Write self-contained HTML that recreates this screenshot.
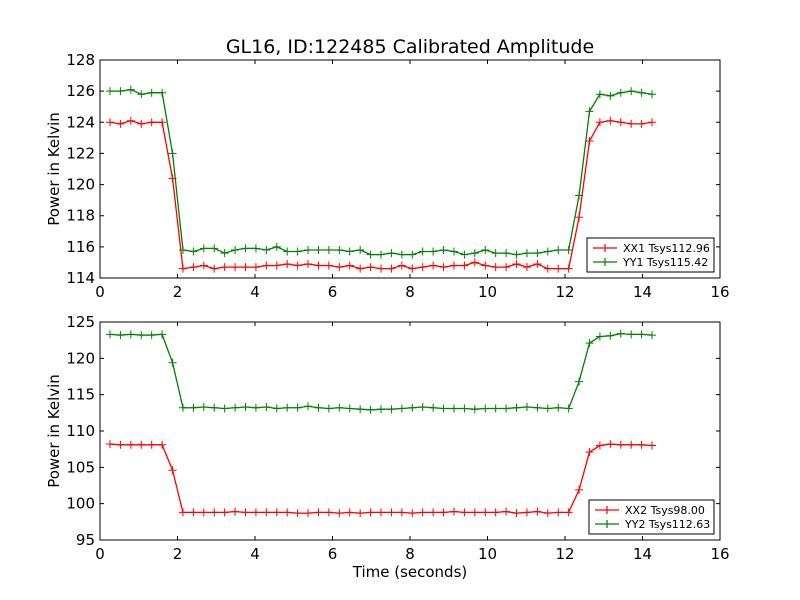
<!DOCTYPE html>
<html><head><meta charset="utf-8"><style>
html,body{margin:0;padding:0;background:#fff}
svg{display:block;font-family:"DejaVu Sans","Liberation Sans",sans-serif}
</style></head><body>
<svg id="c" width="800" height="600" xmlns="http://www.w3.org/2000/svg">
<rect width="800" height="600" fill="#fff"/>
<text x="410" y="53" font-size="19" text-anchor="middle">GL16, ID:122485 Calibrated Amplitude</text>
</svg>
<script>
const t0 = 0.258, dt = 0.269, nPts = 53;
const xx1 = [124.0,123.9,124.1,123.9,124.0,124.0,120.4,
114.6,114.7,114.8,114.6,114.7,114.7,114.7,114.7,114.8,114.8,114.9,114.8,114.9,114.8,114.8,114.7,114.8,114.6,114.7,114.6,114.6,114.8,114.6,114.7,114.8,114.7,114.8,114.8,115.0,114.8,114.7,114.7,114.9,114.7,114.9,114.6,114.6,114.6,
117.9,122.8,124.0,124.1,124.0,123.9,123.9,124.0];
const yy1 = [126.0,126.0,126.1,125.8,125.9,125.9,122.0,
115.8,115.7,115.9,115.9,115.6,115.8,115.9,115.9,115.8,116.0,115.7,115.7,115.8,115.8,115.8,115.8,115.7,115.8,115.5,115.5,115.6,115.5,115.5,115.7,115.7,115.8,115.7,115.5,115.6,115.8,115.6,115.6,115.5,115.6,115.6,115.7,115.8,115.8,
119.3,124.7,125.8,125.7,125.9,126.0,125.9,125.8];
const xx2 = [108.2,108.1,108.1,108.1,108.1,108.1,104.6,
98.8,98.8,98.8,98.8,98.8,98.9,98.8,98.8,98.8,98.8,98.8,98.7,98.7,98.8,98.8,98.7,98.8,98.7,98.8,98.8,98.8,98.8,98.7,98.8,98.8,98.8,98.9,98.8,98.8,98.8,98.8,98.9,98.7,98.8,98.9,98.7,98.8,98.8,
101.9,107.1,108.0,108.2,108.1,108.1,108.1,108.0];
const yy2 = [123.3,123.2,123.3,123.2,123.2,123.3,119.4,
113.2,113.2,113.3,113.2,113.1,113.2,113.3,113.2,113.3,113.1,113.2,113.2,113.4,113.2,113.1,113.2,113.1,113.0,112.9,113.0,113.0,113.1,113.2,113.3,113.2,113.1,113.1,113.1,113.0,113.1,113.1,113.1,113.2,113.3,113.2,113.1,113.2,113.1,
116.8,122.1,123.0,123.1,123.4,123.3,123.3,123.2];
const xTicks = [0,2,4,6,8,10,12,14,16];
const yTicksTop = [114,116,118,120,122,124,126,128];
const yTicksBot = [95,100,105,110,115,120,125];

const svg = document.getElementById('c');
const NS = 'http://www.w3.org/2000/svg';
function mk(tag, attrs, parent){const e=document.createElementNS(NS,tag);for(const k in attrs)e.setAttribute(k,attrs[k]);(parent||svg).appendChild(e);return e;}

function panel(top, bottom, ymin, ymax, yTicks, s1, s2, n1, n2, name, xlabel){
  const L=100,R=720;
  const g = mk('g',{});
  
  
  const X=v=>L+(v-0)/(16-0)*(R-L);
  const Y=v=>bottom-(v-ymin)/(ymax-ymin)*(bottom-top);
  // series
  [[s1,'#ff0000',n1],[s2,'#008000',n2]].forEach(([s,col,nm])=>{
    let d='';
    s.forEach((v,i)=>{d+=(i?'L':'M')+X(t0+i*dt).toFixed(2)+' '+Y(v).toFixed(2);});
    const p=mk('path',{d:d,fill:'none',stroke:col,'stroke-width':1.3},g);
    
    
    s.forEach((v,i)=>{const x=X(t0+i*dt),y=Y(v);
      const m=mk('path',{d:`M${x-4} ${y}H${x+4}M${x} ${y-4}V${y+4}`,stroke:col,'stroke-width':1},g);
      
      
    });
  });
  // frame
  mk('rect',{x:L,y:top,width:R-L,height:bottom-top,fill:'none',stroke:'#000','stroke-width':1},g);
  xTicks.forEach(v=>{const x=X(v);
    mk('path',{d:`M${x} ${bottom}v-4M${x} ${top}v4`,stroke:'#000'},g);
    const t=mk('text',{x:x,y:bottom+19,'font-size':15,'text-anchor':'middle'},g);t.textContent=v;
    
  });
  yTicks.forEach(v=>{const y=Y(v);
    mk('path',{d:`M${L} ${y}h4M${R} ${y}h-4`,stroke:'#000'},g);
    const t=mk('text',{x:L-5,y:y+5,'font-size':15,'text-anchor':'end'},g);t.textContent=v;
    
  });
  const yl=mk('text',{x:0,y:0,'font-size':15,'text-anchor':'middle',transform:`translate(59 ${(top+bottom)/2}) rotate(-90)`},g);
  yl.textContent='Power in Kelvin';
  
  if(xlabel){const xl=mk('text',{x:410,y:bottom+37,'font-size':15,'text-anchor':'middle'},g);xl.textContent=xlabel;
    }
}
panel(60,278,114,128,yTicksTop,xx1,yy1,'xx1','yy1','top-panel',null);
panel(322,540,95,125,yTicksBot,xx2,yy2,'xx2','yy2','bottom-panel','Time (seconds)');

function legend(x,y,w,labels){
  const g=mk('g',{});
  
  
  mk('rect',{x:x,y:y,width:w,height:34,fill:'#fff',stroke:'#000','stroke-width':1},g);
  labels.forEach((lb,i)=>{const yy=y+10+i*14,col=i?'#008000':'#ff0000';
    mk('path',{d:`M${x+6} ${yy}h24M${x+18} ${yy-4}v8`,stroke:col,'stroke-width':1.2},g);
    const t=mk('text',{x:x+36,y:yy+4,'font-size':11},g);t.textContent=lb;
    
  });
}
legend(587,238,127,['XX1 Tsys112.96','YY1 Tsys115.42']);
legend(589,500,125,['XX2 Tsys98.00','YY2 Tsys112.63']);
</script>
</body></html>
